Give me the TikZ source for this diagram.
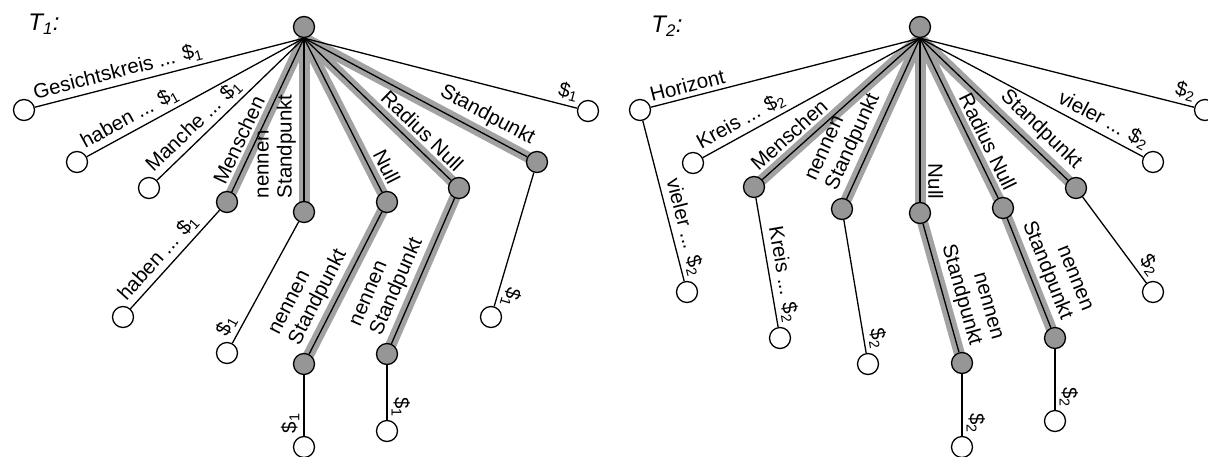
\documentclass[tikz,border=0pt]{standalone}
\usepackage{fontspec}
\setmainfont{Liberation Sans}
\usetikzlibrary{backgrounds}
\definecolor{nodegray}{RGB}{150,150,150}
\definecolor{hlgray}{RGB}{162,162,162}
\newcommand{\dol}[1]{\$\textsubscript{#1}}
\begin{document}
\begin{tikzpicture}[x=1pt,y=-1pt,
  every node/.style={font=\fontsize{20.5}{23}\selectfont},
  gn/.style={circle,draw=black,fill=nodegray,line width=1.3pt,minimum size=21pt,inner sep=0pt},
  wn/.style={circle,draw=black,fill=white,line width=1.3pt,minimum size=21pt,inner sep=0pt},
  edg/.style={line width=1.3pt},
  hl/.style={line width=11pt,draw=hlgray},
  al/.style={sloped,allow upside down,pos=1,anchor=south east,inner xsep=2pt,inner ysep=4pt,align=right},
  fl/.style={sloped,allow upside down,pos=1,rotate=180,anchor=south west,inner xsep=2pt,inner ysep=4pt,align=left},
  wide/.style={inner ysep=7.5pt},
  tl/.style={font=\fontsize{24}{26}\selectfont\itshape}
]
\useasboundingbox (0,0) rectangle (1208,456);

% ---------- T1 ----------
\node[tl] (t1) at (44,24) {T\textsubscript{1}:};
\node[gn] (R1) at (304,27) {};
\node[wn] (A1) at (24,110) {};
\node[wn] (A2) at (77,162) {};
\node[wn] (A3) at (149,188) {};
\node[gn] (B1) at (227,202) {};
\node[gn] (B2) at (304,212) {};
\node[gn] (B3) at (387,202) {};
\node[gn] (B4) at (459,188) {};
\node[gn] (B5) at (537,162) {};
\node[wn] (A4) at (588,111) {};
\node[wn] (C1) at (123,317) {};
\node[wn] (C2) at (227,353) {};
\node[gn] (C3) at (304,364) {};
\node[gn] (C4) at (387,354) {};
\node[wn] (C5) at (491,317) {};
\node[wn] (D1) at (304,447) {};
\node[wn] (D2) at (387,431) {};

% ---------- T2 ----------
\node[tl] (t2) at (667,26) {T\textsubscript{2}:};
\node[gn] (R2) at (920,27) {};
\node[wn] (E1) at (640,110) {};
\node[wn] (E2) at (693,163) {};
\node[gn] (F1) at (754,187) {};
\node[gn] (F2) at (842,209) {};
\node[gn] (F3) at (920,213) {};
\node[gn] (F4) at (1003,208) {};
\node[gn] (F5) at (1076,188) {};
\node[wn] (E3) at (1153,162) {};
\node[wn] (E4) at (1205,110) {};
\node[wn] (G1) at (687,292) {};
\node[wn] (G2) at (780,338) {};
\node[wn] (G3) at (868,364) {};
\node[gn] (H3) at (962,363) {};
\node[gn] (H4) at (1055,338) {};
\node[wn] (G5) at (1153,292) {};
\node[wn] (I3) at (962,447) {};
\node[wn] (I4) at (1055,421) {};

% ---------- highlights ----------
\begin{pgfonlayer}{background}
\draw[hl] (R1.south) -- (B1.center);
\draw[hl] (R1.south) -- (B2.center);
\draw[hl] (R1.south) -- (B3.center);
\draw[hl] (R1.south) -- (B4.center);
\draw[hl] (R1.south) -- (B5.center);
\draw[hl] (B3.center) -- (C3.center);
\draw[hl] (B4.center) -- (C4.center);
\draw[hl] (R2.south) -- (F1.center);
\draw[hl] (R2.south) -- (F2.center);
\draw[hl] (R2.south) -- (F3.center);
\draw[hl] (R2.south) -- (F4.center);
\draw[hl] (R2.south) -- (F5.center);
\draw[hl] (F3.center) -- (H3.center);
\draw[hl] (F4.center) -- (H4.center);
\end{pgfonlayer}

% ---------- T1 edges ----------
\draw[edg] (R1.south) -- node[fl]{Gesichtskreis ... \dol{1}} (A1);
\draw[edg] (R1.south) -- node[fl]{haben ... \dol{1}} (A2);
\draw[edg] (R1.south) -- node[fl]{Manche ... \dol{1}} (A3);
\draw[edg] (R1.south) -- node[fl,wide]{Menschen} (B1);
\draw[edg] (R1.south) -- node[fl,wide]{nennen\\Standpunkt} (B2);
\draw[edg] (R1.south) -- node[al,wide]{Null} (B3);
\draw[edg] (R1.south) -- node[al,wide]{Radius Null} (B4);
\draw[edg] (R1.south) -- node[al,wide]{Standpunkt} (B5);
\draw[edg] (R1.south) -- node[al]{\dol{1}} (A4);
\draw[edg] (B1) -- node[fl]{haben ... \dol{1}} (C1);
\draw[edg] (B2) -- node[fl]{\dol{1}} (C2);
\draw[edg] (B3) -- node[fl,wide]{nennen\\Standpunkt} (C3);
\draw[edg] (B4) -- node[fl,wide]{nennen\\Standpunkt} (C4);
\draw[edg] (B5) -- node[al]{\dol{1}} (C5);
\draw[edg] (C3) -- node[fl]{\dol{1}} (D1);
\draw[edg] (C4) -- node[al]{\dol{1}} (D2);

% ---------- T2 edges ----------
\draw[edg] (R2.south) -- node[fl]{Horizont} (E1);
\draw[edg] (R2.south) -- node[fl]{Kreis ... \dol{2}} (E2);
\draw[edg] (R2.south) -- node[fl,wide]{Menschen} (F1);
\draw[edg] (R2.south) -- node[fl,wide]{nennen\\Standpunkt} (F2);
\draw[edg] (R2.south) -- node[al,wide]{Null} (F3);
\draw[edg] (R2.south) -- node[al,wide]{Radius Null} (F4);
\draw[edg] (R2.south) -- node[al,wide]{Standpunkt} (F5);
\draw[edg] (R2.south) -- node[al]{vieler ... \dol{2}} (E3);
\draw[edg] (R2.south) -- node[al]{\dol{2}} (E4);
\draw[edg] (E1) -- node[al]{vieler ... \dol{2}} (G1);
\draw[edg] (F1) -- node[al]{Kreis ... \dol{2}} (G2);
\draw[edg] (F2) -- node[al]{\dol{2}} (G3);
\draw[edg] (F3) -- node[al,wide]{nennen\\Standpunkt} (H3);
\draw[edg] (F4) -- node[al,wide]{nennen\\Standpunkt} (H4);
\draw[edg] (F5) -- node[al]{\dol{2}} (G5);
\draw[edg] (H3) -- node[al]{\dol{2}} (I3);
\draw[edg] (H4) -- node[al]{\dol{2}} (I4);
\end{tikzpicture}
\end{document}
